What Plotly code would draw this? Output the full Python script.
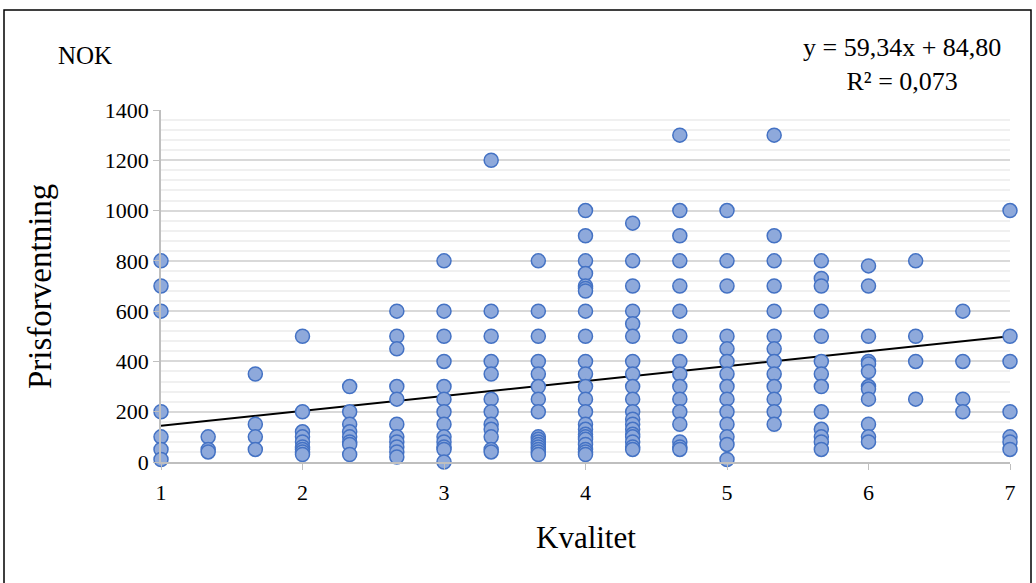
import plotly.graph_objects as go

# Data: price expectation (NOK) by quality score
x_levels = [1, 4/3, 5/3, 2, 7/3, 8/3, 3, 10/3, 11/3, 4, 13/3, 14/3, 5, 16/3, 17/3, 6, 19/3, 20/3, 7]
prices = [
    [800, 700, 600, 200, 100, 50, 10],
    [100, 50, 40],
    [350, 150, 100, 50],
    [500, 200, 120, 100, 80, 60, 50, 40, 30],
    [300, 200, 150, 120, 100, 80, 70, 30],
    [600, 500, 450, 300, 250, 150, 100, 80, 60, 40, 20],
    [800, 600, 500, 400, 300, 250, 200, 150, 100, 80, 60, 50, 0],
    [1200, 600, 500, 400, 350, 250, 200, 150, 130, 100, 50, 40],
    [800, 600, 500, 400, 350, 300, 250, 200, 100, 90, 80, 70, 60, 50, 40, 30],
    [1000, 900, 800, 750, 700, 690, 680, 600, 500, 400, 350, 300, 250, 200, 150, 130, 110, 100, 90, 70, 50, 40, 30],
    [950, 800, 700, 600, 550, 500, 400, 350, 300, 250, 200, 170, 150, 130, 110, 100, 80, 60, 50],
    [1300, 1000, 900, 800, 700, 600, 500, 400, 350, 300, 250, 200, 150, 80, 60, 50],
    [1000, 800, 700, 500, 450, 400, 350, 300, 250, 200, 150, 100, 70, 10],
    [1300, 900, 800, 700, 600, 500, 450, 400, 350, 300, 250, 200, 150],
    [800, 730, 700, 600, 500, 400, 350, 300, 200, 130, 100, 80, 50],
    [780, 700, 500, 400, 390, 360, 300, 290, 250, 150, 100, 80],
    [800, 500, 400, 250],
    [600, 400, 250, 200],
    [1000, 500, 400, 200, 100, 80, 50],
]
trend_slope = 59.34
trend_intercept = 84.80
trend_label = "y = 59,34x + 84,80<br>R² = 0,073"
x_ticks = [1, 2, 3, 4, 5, 6, 7]
y_ticks = [0, 200, 400, 600, 800, 1000, 1200, 1400]

xs, ys = [], []
for xv, col in zip(x_levels, prices):
    for p in col:
        xs.append(xv)
        ys.append(p)

FONT = "Liberation Serif, Times New Roman, serif"

fig = go.Figure()
tx = [min(x_ticks), max(x_ticks)]
fig.add_trace(go.Scatter(
    x=tx, y=[trend_slope * v + trend_intercept for v in tx],
    mode="lines", line=dict(color="black", width=2), showlegend=False, hoverinfo="skip"))
fig.add_trace(go.Scatter(
    x=xs, y=ys, mode="markers", cliponaxis=False,
    marker=dict(size=14, color="#8EA9DB", line=dict(color="#4472C4", width=1.5)),
    showlegend=False))

W, H = 1036, 583
L, R, T, B = 161, 26, 110, 121
pw, ph = W - L - R, H - T - B

fig.update_layout(
    width=W, height=H,
    margin=dict(l=L, r=R, t=T, b=B),
    paper_bgcolor="white", plot_bgcolor="white",
    font=dict(family=FONT, size=22, color="black"),
    xaxis=dict(range=[1, 7], tickvals=x_ticks, showgrid=False, zeroline=False,
               showline=True, linecolor="#BFBFBF", linewidth=1.5,
               ticks="outside", ticklen=6, tickcolor="#BFBFBF",
               ticklabelstandoff=4,
               tickfont=dict(family=FONT, size=22)),
    yaxis=dict(range=[0, 1400], tickvals=y_ticks, showgrid=True, gridcolor="#D9D9D9",
               gridwidth=1.5, zeroline=False, showline=True, linecolor="#BFBFBF",
               linewidth=1.5, ticks="outside", ticklen=6, tickcolor="#BFBFBF",
               tickfont=dict(family=FONT, size=22),
               minor=dict(dtick=40, showgrid=True, gridcolor="#F0F0F0", gridwidth=1.5)),
    annotations=[
        dict(text="Kvalitet", xref="paper", yref="paper", x=0.5, y=-75 / ph,
             xanchor="center", yanchor="middle", showarrow=False,
             font=dict(family=FONT, size=31)),
        dict(text="Prisforventning", xref="paper", yref="paper", x=(40 - L) / pw, y=0.5,
             xanchor="center", yanchor="middle", textangle=-90, showarrow=False,
             font=dict(family=FONT, size=33)),
        dict(text="NOK", xref="paper", yref="paper", x=(85 - L) / pw, y=(462 - 55) / ph,
             xanchor="center", yanchor="middle", showarrow=False,
             font=dict(family=FONT, size=25)),
        dict(text=trend_label, xref="paper", yref="paper", x=(902 - L) / pw, y=(462 - 64) / ph,
             xanchor="center", yanchor="middle", align="center", showarrow=False,
             font=dict(family=FONT, size=26)),
    ],
    shapes=[dict(type="rect", xref="paper", yref="paper",
                 x0=(4 - L) / pw, x1=(1031 - L) / pw,
                 y0=(462 - 600) / ph, y1=(462 - 10) / ph,
                 line=dict(color="black", width=1.5), fillcolor="rgba(0,0,0,0)", layer="below")],
)

fig.write_html("out.html", config={"displayModeBar": False},
               post_script="document.body.style.margin='0';")
